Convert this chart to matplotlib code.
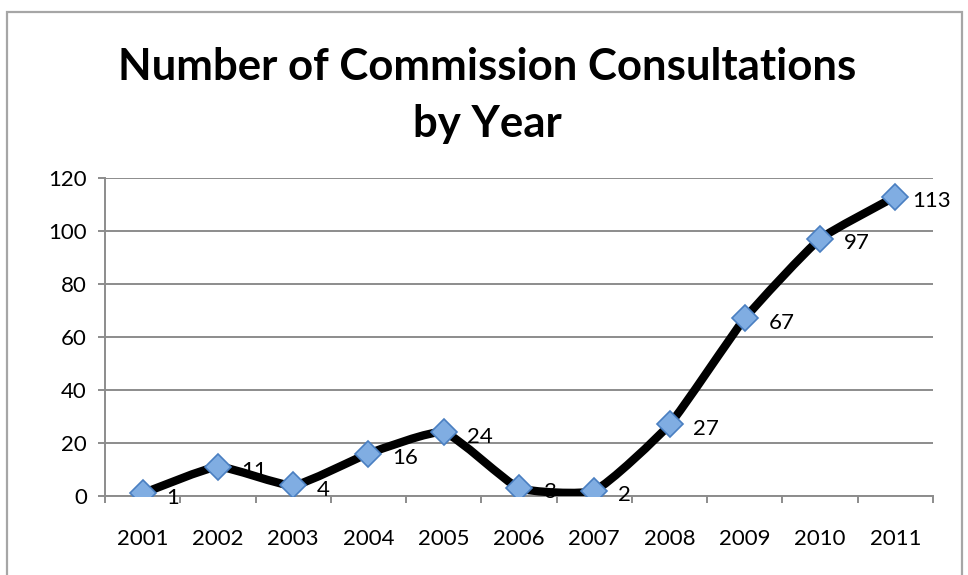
import matplotlib
matplotlib.use("Agg")
import matplotlib.pyplot as plt
import numpy as np
from matplotlib.path import Path
from matplotlib.patches import PathPatch, Rectangle

plt.rcParams['font.family'] = ['Lato', 'DejaVu Sans']

years = ['2001', '2002', '2003', '2004', '2005', '2006', '2007', '2008', '2009', '2010', '2011']
consultations = [1, 11, 4, 16, 24, 3, 2, 27, 67, 97, 113]
title = "Number of Commission Consultations\nby Year"

# pixel size of one x unit / one y unit, used only to shape the smoothing
XPX, YPX = 75.3, 2.65


def smooth_path(xs, ys, t=0.15):
    # excel-like smoothed line: bezier segments, tangents worked out in screen space
    pts = np.column_stack([np.asarray(xs) * XPX, np.asarray(ys) * YPX]).astype(float)
    n = len(pts)
    verts = [pts[0]]
    codes = [Path.MOVETO]
    for i in range(n - 1):
        p0 = pts[i - 1] if i > 0 else pts[i]
        p1 = pts[i]
        p2 = pts[i + 1]
        p3 = pts[i + 2] if i + 2 < n else pts[i + 1]
        seg = np.linalg.norm(p2 - p1)
        d1 = p2 - p0
        d2 = p3 - p1
        c1 = p1 + d1 / np.linalg.norm(d1) * seg * t
        c2 = p2 - d2 / np.linalg.norm(d2) * seg * t
        verts += [c1, c2, p2]
        codes += [Path.CURVE4] * 3
    verts = np.array(verts) / [XPX, YPX]
    return Path(verts, codes)


fig = plt.figure(figsize=(9.68, 5.75), dpi=100)
ax = fig.add_axes([105 / 968, 79 / 575, 828 / 968, 318 / 575])

x = np.arange(len(years))
ax.add_patch(PathPatch(smooth_path(x, consultations), facecolor='none',
                       edgecolor='black', lw=6, capstyle='round',
                       joinstyle='round', zorder=3))
ax.plot(x, consultations, linestyle='none', marker='D', markersize=13,
        markerfacecolor='#80ade2', markeredgecolor='#4a7fc1',
        markeredgewidth=1.2, zorder=4)

for xi, v in zip(x, consultations):
    dx = 12 if v >= 100 and xi == len(years) - 1 else 17
    ax.annotate(str(v), (xi, v), xytext=(dx, -3), textcoords='offset points',
                ha='left', va='center', fontsize=16, zorder=5)

ax.set_xlim(-0.5, len(years) - 0.5)
ax.set_ylim(0, 120)
ax.set_yticks(np.arange(0, 121, 20))
ax.set_xticks(x)
ax.set_xticklabels(years)
ax.set_xticks(np.arange(-0.5, len(years), 1), minor=True)

ax.grid(axis='y', color='#8c8c8c', lw=1.4)
ax.set_axisbelow(True)
for s in ['top', 'right']:
    ax.spines[s].set_visible(False)
for s in ['left', 'bottom']:
    ax.spines[s].set_color('#8c8c8c')
    ax.spines[s].set_linewidth(1.4)

ax.tick_params(axis='y', length=5, width=1.4, color='#8c8c8c', pad=8, labelsize=16)
ax.tick_params(axis='x', which='major', length=0, pad=24, labelsize=16)
ax.tick_params(axis='x', which='minor', length=5, width=1.4, color='#8c8c8c')

fig.text(0.5036, 0.834, title, ha='center', va='center', fontsize=31.5,
         fontweight='bold', linespacing=1.5)

fig.patches.append(Rectangle((7 / 968, -0.1), 955 / 968, 1.1 - 12 / 575,
                             transform=fig.transFigure, fill=False,
                             edgecolor='#a6a6a6', lw=1.6))

fig.savefig('out.png', dpi=100)
